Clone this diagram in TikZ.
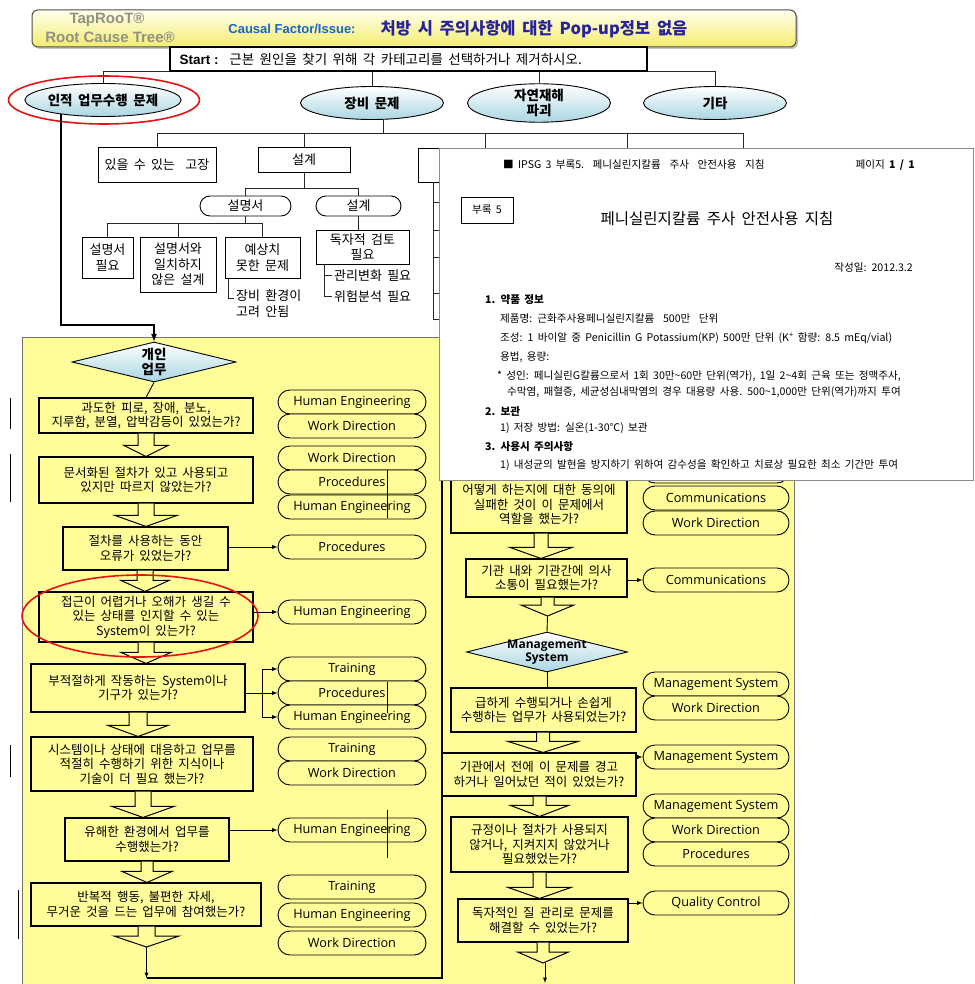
\documentclass[tikz,border=0pt]{standalone}
\usepackage{fontspec}
\setmainfont{Noto Sans CJK KR}[WordSpace=1.8]
\newfontfamily\capfont{Open Sans}
\newfontfamily\headfont{Liberation Sans}
\usetikzlibrary{shapes,arrows,calc,shadows}

\definecolor{panel}{RGB}{255,253,153}
\definecolor{skyend}{RGB}{170,214,226}
\definecolor{hdrtop}{RGB}{255,255,238}
\definecolor{hdrbot}{RGB}{244,236,110}
\definecolor{cfblue}{RGB}{25,100,200}
\definecolor{ttlblue}{RGB}{40,35,150}
\definecolor{tapgray}{RGB}{145,145,132}
\definecolor{ringred}{RGB}{228,20,20}

\newcommand{\qfont}{\fontsize{12.5}{14.5}\selectfont}
\newcommand{\tfont}{\fontsize{13}{15.5}\selectfont}
\newcommand{\cfont}{\capfont\fontsize{12.7}{14}\selectfont}
\newcommand{\dfont}{\fontsize{10.6}{12}\selectfont}

\tikzset{
	question/.style = {draw, line width=1.1pt, rectangle, align=center, inner sep=0pt, fill=panel, font=\qfont},
	cause/.style    = {draw, line width=0.9pt, rectangle, rounded corners=12pt, minimum width=148pt,
		minimum height=24pt, inner sep=0pt, fill=panel, font=\cfont},
	branch/.style   = {draw, ellipse, line width=0.9pt, minimum width=143pt, minimum height=33pt,
		inner sep=0pt, top color=white, bottom color=skyend, font=\fontsize{13.5}{14.5}\selectfont\bfseries},
	gate/.style     = {draw, diamond, line width=0.9pt, inner sep=0pt, top color=white, bottom color=skyend},
	tbox/.style     = {draw, line width=0.9pt, rectangle, align=center, inner sep=0pt, fill=white, font=\tfont},
	tcap/.style     = {draw, line width=0.9pt, rounded corners=10pt, minimum height=20pt, inner sep=0pt, font=\tfont},
	joint/.style    = {inner sep=0pt, outer sep=0pt, minimum size=0pt}, % end points
	ring/.style     = {draw=ringred, line width=1.6pt, ellipse},
	wire/.style     = {draw, line width=0.8pt, black!85},
	link/.style     = {draw, line width=0.9pt},
	hollow/.style   = {draw, line width=1pt, fill=panel, line join=miter},
	doctext/.style  = {anchor=west, inner sep=0pt, font=\dfont}
}
% from, to, x, shaft half width, head half width
\newcommand{\flowarrow}[5]{%
	\draw[hollow] let \p1=(#1.south), \p2=(#2.north) in
	(#3pt-#4pt,\y1) -- (#3pt-#4pt,\y2+11pt) -- (#3pt-#5pt,\y2+11pt) -- (#3pt,\y2)
	-- (#3pt+#5pt,\y2+11pt) -- (#3pt+#4pt,\y2+11pt) -- (#3pt+#4pt,\y1);}

\begin{document}
\begin{tikzpicture}[x=1pt, y=-1pt, >=latex]
	\useasboundingbox (0,0) rectangle (974,984);
	
	% header
	\node[draw=black!70, line width=1pt, rounded corners=6pt, top color=hdrtop, bottom color=hdrbot,
	minimum width=764pt, minimum height=37pt, drop shadow={shadow xshift=2pt, shadow yshift=-2pt, fill=black!45}] (hdr) at (414,28.5) {};
	\node[font=\headfont\fontsize{15}{16}\selectfont\bfseries, text=tapgray] (tap) at (107,20) {TapRooT®};
	\node[font=\headfont\fontsize{15}{16}\selectfont\bfseries, text=tapgray] (rct) at (110,37) {Root Cause Tree®};
	\node[font=\headfont\fontsize{13}{14}\selectfont\bfseries, text=cfblue] (cfi) at (292,29) {Causal Factor/Issue:};
	\node[font=\fontsize{16.5}{18}\selectfont\bfseries, text=ttlblue] (ttl) at (534,29) {처방 시 주의사항에 대한 Pop-up정보 없음};
	
	% categories
	\node[branch] (human) at (103,100) {인적 업무수행 문제};
	\node[branch] (equip) at (372,103) {장비 문제};
	\node[branch, align=center] (nature) at (539,103) {자연재해\\파괴};
	\node[branch] (other) at (715,103) {기타};
	\coordinate (bus) at (0,71);
	\draw[wire] (human.north) |- (bus -| other.north) -- (other.north);
	\draw[wire] (equip.north |- bus) -- (equip.north);
	\draw[wire] (nature.north |- bus) -- (nature.north);
	\node[draw, line width=1.6pt, fill=white, minimum width=477pt, minimum height=24pt] (start) at (408.5,59) {};
	\node[anchor=west, font=\fontsize{13.5}{15}\selectfont] (starttxt) at (176,59) {{\headfont\bfseries Start :}\ \ 근본 원인을 찾기 위해 각 카테고리를 선택하거나 제거하시오.};
	\node[ring, minimum width=191pt, minimum height=48pt] (ring1) at (104,100) {};
	
	% equipment tree
	\node[tbox, minimum width=118pt, minimum height=35pt] (fail) at (157,164.5) {있을 수 있는\ \ 고장};
	\node[tbox, minimum width=92pt, minimum height=25pt] (design) at (304,159.5) {설계};
	\node[tbox, minimum width=134pt, minimum height=34pt] (hid1) at (485,165) {};
	\node[tbox, minimum width=80pt, minimum height=34pt] (hid2) at (627,165) {};
	\node[tbox, minimum width=80pt, minimum height=34pt] (hid3) at (743,165) {};
	\coordinate (bus2) at (0,133);
	\draw[wire] (equip.-55) -- (equip.-55 |- bus2);
	\draw[wire] (fail.north) |- (bus2 -| hid3.north) -- (hid3.north);
	\draw[wire] (design.north |- bus2) -- (design.north);
	\draw[wire] (hid1.north |- bus2) -- (hid1.north);
	\draw[wire] (hid2.north |- bus2) -- (hid2.north);
	\foreach \dy in {20,48,75,111,137}
	\draw[wire] ($(hid1.south west)+(16,0)$) |- ($(hid1.south west)+(30,\dy)$);
	
	\node[tcap, minimum width=91pt] (manual) at (245.5,206) {설명서};
	\node[tcap, minimum width=85pt] (design2) at (358.5,206) {설계};
	\coordinate (bus3) at (0,188);
	\draw[wire] (design.south) -- (design.south |- bus3);
	\draw[wire] (manual.north) |- (bus3 -| design2.north) -- (design2.north);
	
	\node[tbox, minimum width=51pt, minimum height=41pt] (needman) at (107.5,257.5) {설명서\\필요};
	\node[tbox, minimum width=76pt, minimum height=55pt] (mismatch) at (178,264.5) {설명서와\\일치하지\\않은 설계};
	\node[tbox, minimum width=75pt, minimum height=41pt] (unexp) at (262.5,257.5) {예상치\\못한 문제};
	\coordinate (bus4) at (0,223);
	\draw[wire] (manual.south) -- (manual.south |- bus4);
	\draw[wire] (needman.north) |- (bus4 -| unexp.north) -- (unexp.north);
	\draw[wire] (mismatch.north) -- (mismatch.north |- bus4);
	\node[anchor=north west, font=\tfont, align=left, inner sep=0pt] (envnote) at (236,290) {장비 환경이\\고려 안됨};
	\draw[wire] ($(unexp.south west)+(4,0)$) |- ($(envnote.north west)+(-2,8)$);
	
	\node[tbox, minimum width=93pt, minimum height=34pt] (review) at (362.5,247) {독자적 검토\\필요};
	\draw[wire] (design2.south) -- (design2.south |- review.north);
	\node[anchor=west, font=\tfont, inner sep=0pt] (mgmtchg) at (334,275.5) {관리변화 필요};
	\node[anchor=west, font=\tfont, inner sep=0pt] (riskan) at (334,296.5) {위험분석 필요};
	\draw[wire] ($(review.south west)+(9,0)$) |- ($(riskan.west)+(-2,0)$);
	\draw[wire] ($(review.south west)+(9,0)$) |- ($(mgmtchg.west)+(-2,0)$);
	
	% yellow panel
	\draw[draw=black!55, fill=panel] (22,337) rectangle (794,990);
	
	% personal task column
	\node[gate, minimum width=164pt, minimum height=40pt] (task) at (154,362) {};
	\node[font=\fontsize{13.5}{14.5}\selectfont\bfseries, align=center, inner sep=0pt] (tasktxt) at (154,362) {개인\\업무};
	\coordinate (bend) at (154,325);
	\draw[line width=1.6pt, ->] (human.199) |- (bend) -- (task.north);
	
	\node[question, minimum width=214pt, minimum height=35pt] (q1) at (146,415.5) {과도한 피로, 장애, 분노,\\지루함, 분열, 압박감등이 있었는가?};
	\node[question, minimum width=214pt, minimum height=46pt] (q2) at (146,480) {문서화된 절차가 있고 사용되고\\있지만 따르지 않았는가?};
	\node[question, minimum width=165pt, minimum height=43pt] (q3) at (145.5,548.5) {절차를 사용하는 동안\\오류가 있었는가?};
	\node[question, minimum width=214pt, minimum height=50pt] (q4) at (146,617) {접근이 어렵거나 오해가 생길 수\\있는 상태를 인지할 수 있는\\System이 있는가?};
	\node[question, minimum width=214pt, minimum height=48pt] (q5) at (138,688) {부적절하게 작동하는 System이나\\기구가 있는가?};
	\node[question, minimum width=222pt, minimum height=54pt] (q6) at (142,764) {시스템이나 상태에 대응하고 업무를\\적절히 수행하기 위한 지식이나\\기술이 더 필요 했는가?};
	\node[question, minimum width=164pt, minimum height=43pt] (q7) at (147,839.5) {유해한 환경에서 업무를\\수행했는가?};
	\node[question, minimum width=230pt, minimum height=43pt] (q8) at (146,904.5) {반복적 행동, 불편한 자세,\\무거운 것을 드는 업무에 참여했는가?};
	\draw[link] (task.south) -- (q1.north);
	\flowarrow{q1}{q2}{146}{8}{22}
	\flowarrow{q2}{q3}{146}{8}{31}
	\flowarrow{q3}{q4}{145}{8}{24}
	\flowarrow{q4}{q5}{146}{8}{25}
	\flowarrow{q5}{q6}{138}{9}{30}
	\flowarrow{q6}{q7}{143}{8}{31}
	\flowarrow{q7}{q8}{147}{6}{25}
	\node[joint] (lend) at (146.5,947) {};
	\flowarrow{q8}{lend}{146.5}{8.5}{32.5}
	\node[ring, minimum width=236pt, minimum height=82pt] (ring2) at (140,616) {};
	
	\node[cause] (c1) at (352,402) {Human Engineering};
	\node[cause] (c2) at (352,426) {Work Direction};
	\node[cause] (c3) at (352,458) {Work Direction};
	\node[cause] (c4) at (352,482) {Procedures};
	\node[cause] (c5) at (352,507) {Human Engineering};
	\node[cause] (c6) at (352,547) {Procedures};
	\node[cause] (c7) at (352,612) {Human Engineering};
	\node[cause] (c8) at (352,669) {Training};
	\node[cause] (c9) at (352,693) {Procedures};
	\node[cause] (c10) at (352,717) {Human Engineering};
	\node[cause] (c11) at (352,749) {Training};
	\node[cause] (c12) at (352,773) {Work Direction};
	\node[cause] (c13) at (352,830) {Human Engineering};
	\node[cause] (c14) at (352,887) {Training};
	\node[cause] (c15) at (352,915) {Human Engineering};
	\node[cause] (c16) at (352,943) {Work Direction};
	
	\draw[link, ->] (q3.east |- c6.west) -- (c6.west);
	\draw[link, ->] (q4.east |- c7.west) -- (c7.west);
	\coordinate (fork) at (262,693);
	\draw[link] (q5.east |- fork) -- (fork);
	\draw[link, ->] (fork) |- (c8.west);
	\draw[link, ->] (fork) -- (c9.west);
	\draw[link, ->] (fork) |- (c10.west);
	\draw[link, ->] (q7.east |- c13.west) -- (c13.west);
	
	% stray marks
	\draw[line width=0.7pt] (10,398) -- (10,429) (10,454) -- (10,502) (10,745) -- (10,777) (18,890) -- (18,939);
	\draw[line width=0.7pt] (387,470) -- (387,518) (387,682) -- (387,713) (387,810) -- (387,858);
	
	% loop back to the right column
	\coordinate (lfoot) at (146.5,978);
	\coordinate (rcorner) at (442,978);
	\node[joint] (rstart) at (442,470) {};
	\draw[link, ->] (lend) -- (lfoot);
	\draw[line width=1.6pt] (lfoot) -- (rcorner) -- (rstart);
	
	% right column
	\node[question, minimum width=176pt, minimum height=57pt] (r1) at (539,504.5) {어떻게 하는지에 대한 동의에\\실패한 것이 이 문제에서\\역할을 했는가?};
	\node[question, minimum width=161pt, minimum height=38pt] (r2) at (546.5,578) {기관 내와 기관간에 의사\\소통이 필요했는가?};
	\flowarrow{r1}{r2}{541}{7}{31}
	\node[joint] (rtip) at (547.5,616) {};
	\flowarrow{r2}{rtip}{547.5}{6.5}{26.5}
	\node[gate, minimum width=161pt, minimum height=40pt] (mgmt) at (547,652) {};
	\node[font=\capfont\fontsize{12}{13}\selectfont\bfseries, align=center, inner sep=0pt] (mgmttxt) at (547,652) {Management\\System};
	\draw[link] (rtip) -- (mgmt.north);
	\node[question, minimum width=185pt, minimum height=44pt] (r3) at (543.5,710) {급하게 수행되거나 손쉽게\\수행하는 업무가 사용되었는가?};
	\draw[link] (mgmt.south) -- (mgmt.south |- r3.north);
	\node[question, minimum width=194pt, minimum height=43pt] (r4) at (539,774.5) {기관에서 전에 이 문제를 경고\\하거나 일어났던 적이 있었는가?};
	\flowarrow{r3}{r4}{543}{6.5}{35}
	\node[question, minimum width=177pt, minimum height=55pt] (r5) at (539.5,844.5) {규정이나 절차가 사용되지\\않거나, 지켜지지 않았거나\\필요했었는가?};
	\flowarrow{r4}{r5}{539.5}{6.5}{29}
	\node[question, minimum width=170pt, minimum height=43pt] (r6) at (543,920.5) {독자적인 질 관리로 문제를\\해결할 수 있었는가?};
	\flowarrow{r5}{r6}{539.5}{6.5}{31.5}
	\node[joint] (rend) at (545,963) {};
	\flowarrow{r6}{rend}{543}{6}{25.5}
	\coordinate (rfoot) at (545,983);
	\draw[link, ->] (rend) -- (rfoot);
	
	\node[cause, minimum width=146pt] (k0) at (716,471) {};
	\node[cause, minimum width=146pt] (k1) at (716,498) {Communications};
	\node[cause, minimum width=146pt] (k2) at (716,523) {Work Direction};
	\node[cause, minimum width=146pt] (k3) at (716,580) {Communications};
	\node[cause, minimum width=146pt] (k4) at (716,684) {Management System};
	\node[cause, minimum width=146pt] (k5) at (716,708) {Work Direction};
	\node[cause, minimum width=146pt] (k6) at (716,757) {Management System};
	\node[cause, minimum width=146pt] (k7) at (716,806) {Management System};
	\node[cause, minimum width=146pt] (k8) at (716,830) {Work Direction};
	\node[cause, minimum width=146pt] (k9) at (716,854) {Procedures};
	\node[cause, minimum width=146pt] (k10) at (716,903) {Quality Control};
	\draw[link, ->] (r2.east |- k3.west) -- (k3.west);
	\draw[link, ->] (r4.east |- k6.west) -- (k6.west);
	\draw[link, ->] (r6.east |- k10.west) -- (k10.west);
	
	% pasted document
	\node[draw=black!45, line width=0.8pt, fill=white, minimum width=534pt, minimum height=332pt, inner sep=0pt] (doc) at (706,314) {};
	\node[doctext] (dhead) at (503,165) {■ IPSG 3 부록5.\ \ 페니실린지칼륨\ \ 주사\ \ 안전사용\ \ 지침};
	\node[doctext, anchor=east] (dpage) at (915,165) {페이지 \textbf{1 / 1}};
	\node[draw, line width=0.7pt, minimum width=52pt, minimum height=26pt, font=\dfont] (dbox) at (487,210) {부록 5};
	\node[font=\fontsize{15.5}{16}\selectfont] (dtitle) at (717,219) {페니실린지칼륨 주사 안전사용 지침};
	\node[doctext, anchor=east] (ddate) at (913,268) {작성일: 2012.3.2};
	\node[doctext, font=\dfont\bfseries] (ds1) at (485,300) {1. 약품 정보};
	\node[doctext] (dl1) at (500,319) {제품명: 근화주사용페니실린지칼륨\ \ 500만\ \ 단위};
	\node[doctext] (dl2) at (500,338) {조성: 1 바이알 중 Penicillin G Potassium(KP) 500만 단위 (K\textsuperscript{+} 함량: 8.5 mEq/vial)};
	\node[doctext] (dl3) at (500,357) {용법, 용량:};
	\node[doctext] (dl4) at (497,376) {* 성인: 페니실린G칼륨으로서 1회 30만\textasciitilde60만 단위(역가), 1일 2\textasciitilde4회 근육 또는 정맥주사,};
	\node[doctext] (dl5) at (507,392) {수막염, 패혈증, 세균성심내막염의 경우 대용량 사용. 500\textasciitilde1,000만 단위(역가)까지 투여};
	\node[doctext, font=\dfont\bfseries] (ds2) at (485,411) {2. 보관};
	\node[doctext] (dl6) at (500,428) {1) 저장 방법: 실온(1-30℃) 보관};
	\node[doctext, font=\dfont\bfseries] (ds3) at (485,447) {3. 사용시 주의사항};
	\node[doctext] (dl7) at (500,465) {1) 내성균의 발현을 방지하기 위하여 감수성을 확인하고 치료상 필요한 최소 기간만 투여};
	
\end{tikzpicture}
\end{document}
